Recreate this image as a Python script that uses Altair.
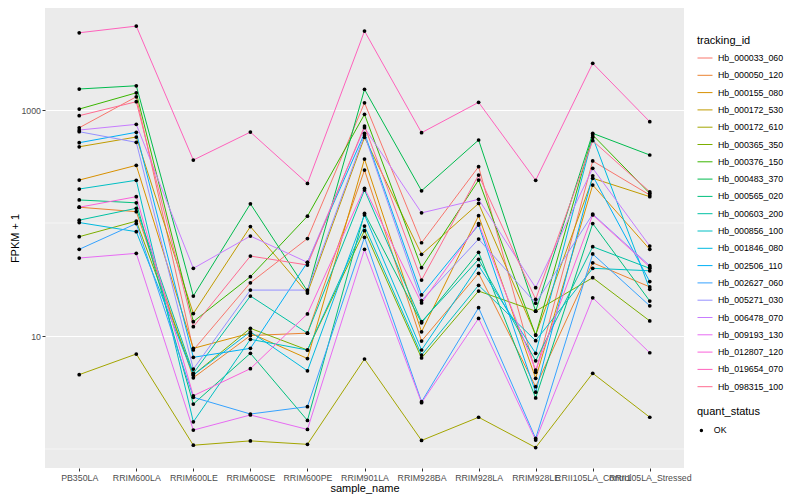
import altair as alt
import pandas as pd

samples = ["PB350LA", "RRIM600LA", "RRIM600LE", "RRIM600SE", "RRIM600PE", "RRIM901LA",
           "RRIM928BA", "RRIM928LA", "RRIM928LE", "RRII105LA_Control", "RRII105LA_Stressed"]

tracking_ids = ["Hb_000033_060", "Hb_000050_120", "Hb_000155_080", "Hb_000172_530", "Hb_000172_610",
                "Hb_000365_350", "Hb_000376_150", "Hb_000483_370", "Hb_000565_020", "Hb_000603_200",
                "Hb_000856_100", "Hb_001846_080", "Hb_002506_110", "Hb_002627_060", "Hb_005271_030",
                "Hb_006478_070", "Hb_009193_130", "Hb_012807_120", "Hb_019654_070", "Hb_098315_100"]

palette = ["#F8766D", "#EA8331", "#D89000", "#C09B00", "#A3A500", "#7CAE00", "#39B600", "#00BB4E",
           "#00BF7D", "#00C1A3", "#00BFC4", "#00BAE0", "#00B0F6", "#35A2FF", "#9590FF", "#C77CFF",
           "#E76BF3", "#FA62DB", "#FF62BC", "#FF6C91"]

# FPKM + 1 per sample (order of `samples`)
hb_000033_060 = [697, 1310, 7.52, 29.6, 72.9, 1160, 66.9, 315, 4.77, 354, 177]
hb_000050_120 = [138, 126, 4.27, 10.1, 10.6, 294, 9.03, 35.9, 3.56, 44.5, 27.2]
hb_000155_080 = [240, 324, 7.78, 10.6, 6.32, 368, 10.9, 116, 4.22, 217, 58.5]
hb_000172_530 = [473, 577, 15.8, 93, 24.0, 573, 52.8, 149, 10.2, 249, 171]
hb_000172_610 = [4.55, 6.93, 1.08, 1.18, 1.10, 6.26, 1.19, 1.91, 1.03, 4.68, 1.91]
hb_000365_350 = [75.7, 104, 4.52, 11.7, 7.52, 85.5, 6.39, 25.0, 16.6, 32.8, 13.6]
hb_000376_150 = [1020, 1420, 13.4, 33.5, 115, 916, 40.2, 240, 10.2, 601, 183]
hb_000483_370 = [1535, 1640, 22.6, 148, 25.0, 1525, 193, 543, 16.6, 622, 400]
hb_000565_020 = [160, 151, 2.50, 7.03, 1.79, 122, 13.1, 55.1, 2.83, 99, 20.4]
hb_000603_200 = [106, 135, 4.68, 22.6, 10.6, 196, 13.4, 47.7, 6.04, 61.7, 39.7]
hb_000856_100 = [200, 239, 1.74, 9.35, 7.52, 94, 6.79, 28.1, 9.09, 39.7, 37.8]
hb_001846_080 = [101, 83.8, 4.52, 10.9, 4.92, 118, 7.52, 41.9, 7.03, 573, 25.9]
hb_002506_110 = [514, 635, 6.48, 7.78, 44.9, 622, 23.1, 96, 3.18, 262, 30.3]
hb_002627_060 = [58.5, 99, 2.87, 2.04, 2.37, 74.7, 2.62, 17.8, 1.24, 53.2, 18.5]
hb_005271_030 = [643, 518, 5.10, 25.5, 25.5, 601, 20.6, 72.1, 19.5, 120, 41.9]
hb_006478_070 = [665, 747, 39.7, 76.7, 44.9, 697, 123, 162, 26.8, 305, 62.6]
hb_009193_130 = [49.0, 53.9, 1.47, 2.00, 1.49, 58.5, 2.57, 14.3, 1.20, 21.8, 7.11]
hb_012807_120 = [138, 171, 2.96, 5.14, 15.7, 203, 19.6, 99, 5.00, 118, 40.8]
hb_019654_070 = [4830, 5530, 361, 638, 224, 5000, 630, 1170, 239, 2590, 788]
hb_098315_100 = [891, 1185, 12.1, 51.0, 42.5, 722, 31.3, 266, 21.1, 535, 189]

series = [hb_000033_060, hb_000050_120, hb_000155_080, hb_000172_530, hb_000172_610,
          hb_000365_350, hb_000376_150, hb_000483_370, hb_000565_020, hb_000603_200,
          hb_000856_100, hb_001846_080, hb_002506_110, hb_002627_060, hb_005271_030,
          hb_006478_070, hb_009193_130, hb_012807_120, hb_019654_070, hb_098315_100]

major_breaks = [10, 1000]
minor_breaks = [1, 100]

rows = []
for i, (tid, vals) in enumerate(zip(tracking_ids, series)):
    for s, v in zip(samples, vals):
        rows.append({"tracking_id": tid, "sample_name": s, "value": v,
                     "quant_status": "OK", "order": i})
df = pd.DataFrame(rows)
minor_df = pd.DataFrame({"value": minor_breaks})

FONT = "Liberation Sans"
yscale = alt.Scale(type="log", domain=[0.679, 8000], nice=False)
yaxis = alt.Axis(values=major_breaks, format="d", labelFontSize=8.8, labelColor="#4D4D4D",
                 tickColor="#333333", tickSize=3, labelPadding=1.5, domain=False,
                 gridColor="white", gridWidth=1.1, titleFontSize=11, titleFontWeight="normal",
                 titleColor="black", titlePadding=0, labelFont=FONT, titleFont=FONT)
xaxis = alt.Axis(labelFontSize=8.8, labelColor="#4D4D4D", tickColor="#333333", tickSize=3,
                 labelPadding=2, domain=False, gridColor="white", gridWidth=1.1, labelAngle=0,
                 labelOverlap=False, labelBound=False, titleFontSize=11,
                 titleFontWeight="normal", titleColor="black", titlePadding=1,
                 labelFont=FONT, titleFont=FONT)

y_enc = alt.Y("value:Q", title="FPKM + 1", scale=yscale, axis=yaxis)
x_enc = alt.X("sample_name:N", sort=samples, title="sample_name",
              scale=alt.Scale(type="point", padding=0.6), axis=xaxis)

minor = alt.Chart(minor_df).mark_rule(color="white", strokeWidth=0.55).encode(y=y_enc)

base = alt.Chart(df)
lines = base.mark_line(strokeWidth=1.0).encode(
    x=x_enc, y=y_enc,
    color=alt.Color("tracking_id:N", scale=alt.Scale(domain=tracking_ids, range=palette),
                    legend=alt.Legend(orient="none", legendX=652, legendY=27, title="tracking_id",
                                      titleFontSize=11, titleFontWeight="normal", titleColor="black",
                                      titleFont=FONT, labelFont=FONT, labelFontSize=8.8,
                                      labelColor="black", symbolType="stroke", symbolSize=225,
                                      symbolStrokeWidth=1, rowPadding=4.3, titlePadding=4,
                                      labelOffset=5, padding=0, columns=1)),
    order=alt.Order("order:Q"),
)
points = base.mark_point(filled=True, size=14, color="black", opacity=1).encode(
    x=x_enc, y=y_enc,
    shape=alt.Shape("quant_status:N", scale=alt.Scale(domain=["OK"], range=["circle"]),
                    legend=alt.Legend(orient="none", legendX=652, legendY=398, title="quant_status",
                                      titleFontSize=11, titleFontWeight="normal", titleColor="black",
                                      titleFont=FONT, labelFont=FONT, labelFontSize=8.8,
                                      labelColor="black", symbolType="square",
                                      symbolFillColor="black", symbolStrokeColor="black",
                                      symbolSize=12, titlePadding=9, labelOffset=8, padding=0)),
)

chart = alt.layer(minor, lines, points).properties(
    width=639, height=460,
    autosize=alt.AutoSizeParams(type="none"),
    padding={"left": 37, "top": 0, "right": 108, "bottom": 30},
    background="white",
).configure_view(fill="#EBEBEB", stroke=None)

chart.save("out.html", embed_options={"renderer": "svg", "actions": False})
